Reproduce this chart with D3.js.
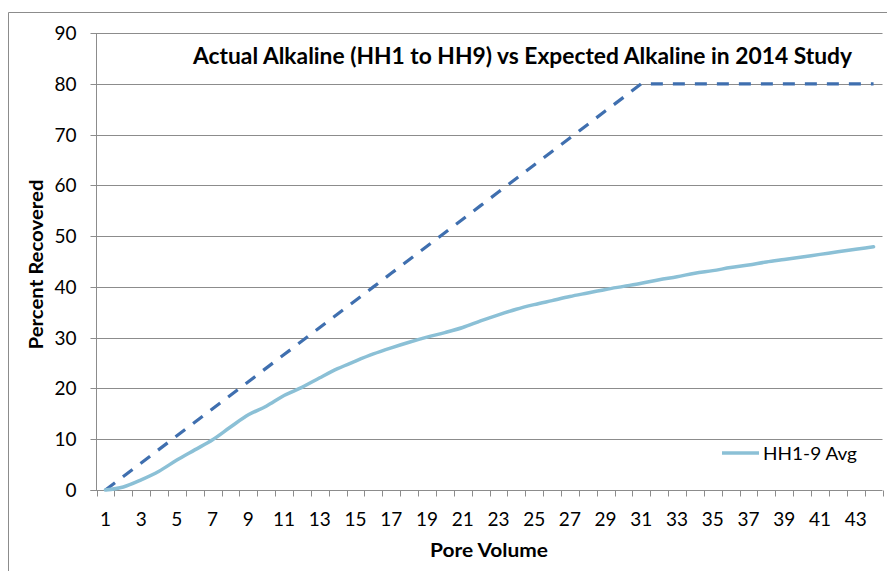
<!DOCTYPE html>
<html>
<head>
<meta charset="utf-8">
<script src="https://cdn.jsdelivr.net/npm/d3@7"></script>
<style>
  html, body { margin: 0; padding: 0; background: #fff; }
  svg { display: block; }
  text { font-family: Lato, "Open Sans", "Liberation Sans", sans-serif; fill: #000; }
</style>
</head>
<body>
<svg id="chart" width="887" height="571"></svg>
<script>
const categories = d3.range(1, 45); // Pore Volume 1..44
const tickLabels = [1,3,5,7,9,11,13,15,17,19,21,23,25,27,29,31,33,35,37,39,41,43];
const yTicks = [0,10,20,30,40,50,60,70,80,90];

const actualAvg = [0, 0.6, 2.0, 3.7, 5.9, 7.9, 9.9, 12.4, 14.8, 16.5, 18.6, 20.2,
  22.1, 23.9, 25.4, 26.8, 28.0, 29.1, 30.1, 31.0, 32.0, 33.3, 34.5, 35.6, 36.5,
  37.3, 38.1, 38.8, 39.5, 40.1, 40.7, 41.4, 42.0, 42.7, 43.2, 43.8, 44.3, 44.9,
  45.4, 45.9, 46.4, 46.9, 47.4, 47.9];

const expected = [0, 2.67, 5.33, 8, 10.67, 13.33, 16, 18.67, 21.33, 24, 26.67,
  29.33, 32, 34.67, 37.33, 40, 42.67, 45.33, 48, 50.67, 53.33, 56, 58.67, 61.33,
  64, 66.67, 69.33, 72, 74.67, 77.33, 80, 80, 80, 80, 80, 80, 80, 80, 80, 80, 80,
  80, 80, 80];

const titleText = "Actual Alkaline (HH1 to HH9) vs Expected Alkaline in 2014 Study";
const legendLabel = "HH1-9 Avg";
const xTitle = "Pore Volume";
const yTitle = "Percent Recovered";

const svg = d3.select("#chart");
const L = 96.5, R = 882.5, T = 33, B = 490;

// chart border
svg.append("path").attr("d", `M8.5,571 L8.5,12.5 L887,12.5`)
  .attr("fill", "none").attr("stroke", "#8c8c8c").attr("stroke-width", 1);

const x = d3.scaleBand().domain(categories).range([L, R]).paddingInner(0).paddingOuter(0);
const y = d3.scaleLinear().domain([0, 90]).range([B, T]);
const cx = d => x(d) + x.bandwidth() / 2;

// gridlines
svg.append("g").selectAll("line").data(yTicks.filter(v => v > 0)).join("line")
  .attr("x1", L).attr("x2", R)
  .attr("y1", d => Math.round(y(d)) + 0.5).attr("y2", d => Math.round(y(d)) + 0.5)
  .attr("stroke", "#8c8c8c").attr("stroke-width", 1);

// y axis
const yAxis = d3.axisLeft(y).tickValues(yTicks).tickSize(6).tickPadding(14);
const gy = svg.append("g").attr("transform", `translate(${L},0)`).call(yAxis);
gy.select(".domain").attr("stroke", "#8c8c8c").attr("d", `M0,${T}V${B}`);
gy.selectAll(".tick line").attr("stroke", "#8c8c8c");
gy.selectAll(".tick text").attr("font-size", 19).attr("font-family", "Lato, sans-serif").attr("fill", "#000");
gy.selectAll(".tick").attr("transform", d => `translate(0,${Math.round(y(d)) + 0.5})`);

// x axis (category axis, ticks between categories)
const gx = svg.append("g").attr("transform", `translate(0,${B + 0.5})`);
gx.append("line").attr("x1", L - 6).attr("x2", R).attr("stroke", "#8c8c8c");
const boundaries = categories.map(c => x(c)).concat([R]);
gx.selectAll("line.tk").data(boundaries).join("line").attr("class", "tk")
  .attr("x1", d => Math.round(d) + 0.5).attr("x2", d => Math.round(d) + 0.5)
  .attr("y1", 0).attr("y2", 6).attr("stroke", "#8c8c8c");
gx.selectAll("text").data(tickLabels).join("text")
  .attr("x", d => cx(d)).attr("y", 35.5)
  .attr("text-anchor", "middle").attr("font-size", 19).text(d => d);

// lines
const lineGen = d3.line().x((d, i) => cx(categories[i])).y(d => y(d));
svg.append("path").datum(expected).attr("d", lineGen)
  .attr("fill", "none").attr("stroke", "#3f6faf").attr("stroke-width", 3.2)
  .attr("stroke-dasharray", "12,10");
svg.append("path").datum(actualAvg).attr("d", d3.line().curve(d3.curveMonotoneX)
    .x((d, i) => cx(categories[i])).y(d => y(d)))
  .attr("fill", "none").attr("stroke", "#8bc0d6").attr("stroke-width", 3.5)
  .attr("stroke-linejoin", "round").attr("stroke-linecap", "round");

// title
svg.append("text").attr("x", 193).attr("y", 64)
  .attr("font-size", 22).attr("font-weight", "bold")
  .attr("textLength", 659).attr("lengthAdjust", "spacingAndGlyphs")
  .text(titleText);

// axis titles
svg.append("text").attr("x", 489).attr("y", 557).attr("text-anchor", "middle")
  .attr("font-size", 18).attr("font-weight", "bold")
  .attr("textLength", 118).attr("lengthAdjust", "spacingAndGlyphs").text(xTitle);
svg.append("text").attr("transform", `translate(43,${(T + B) / 2 + 3}) rotate(-90)`)
  .attr("text-anchor", "middle").attr("font-size", 18).attr("font-weight", "bold")
  .attr("textLength", 170).attr("lengthAdjust", "spacingAndGlyphs").text(yTitle);

// legend
svg.append("line").attr("x1", 722).attr("x2", 759).attr("y1", 453).attr("y2", 453)
  .attr("stroke", "#8bc0d6").attr("stroke-width", 3.5);
svg.append("text").attr("x", 763).attr("y", 460).attr("font-size", 18)
  .attr("textLength", 94).attr("lengthAdjust", "spacingAndGlyphs").text(legendLabel);
</script>
</body>
</html>
